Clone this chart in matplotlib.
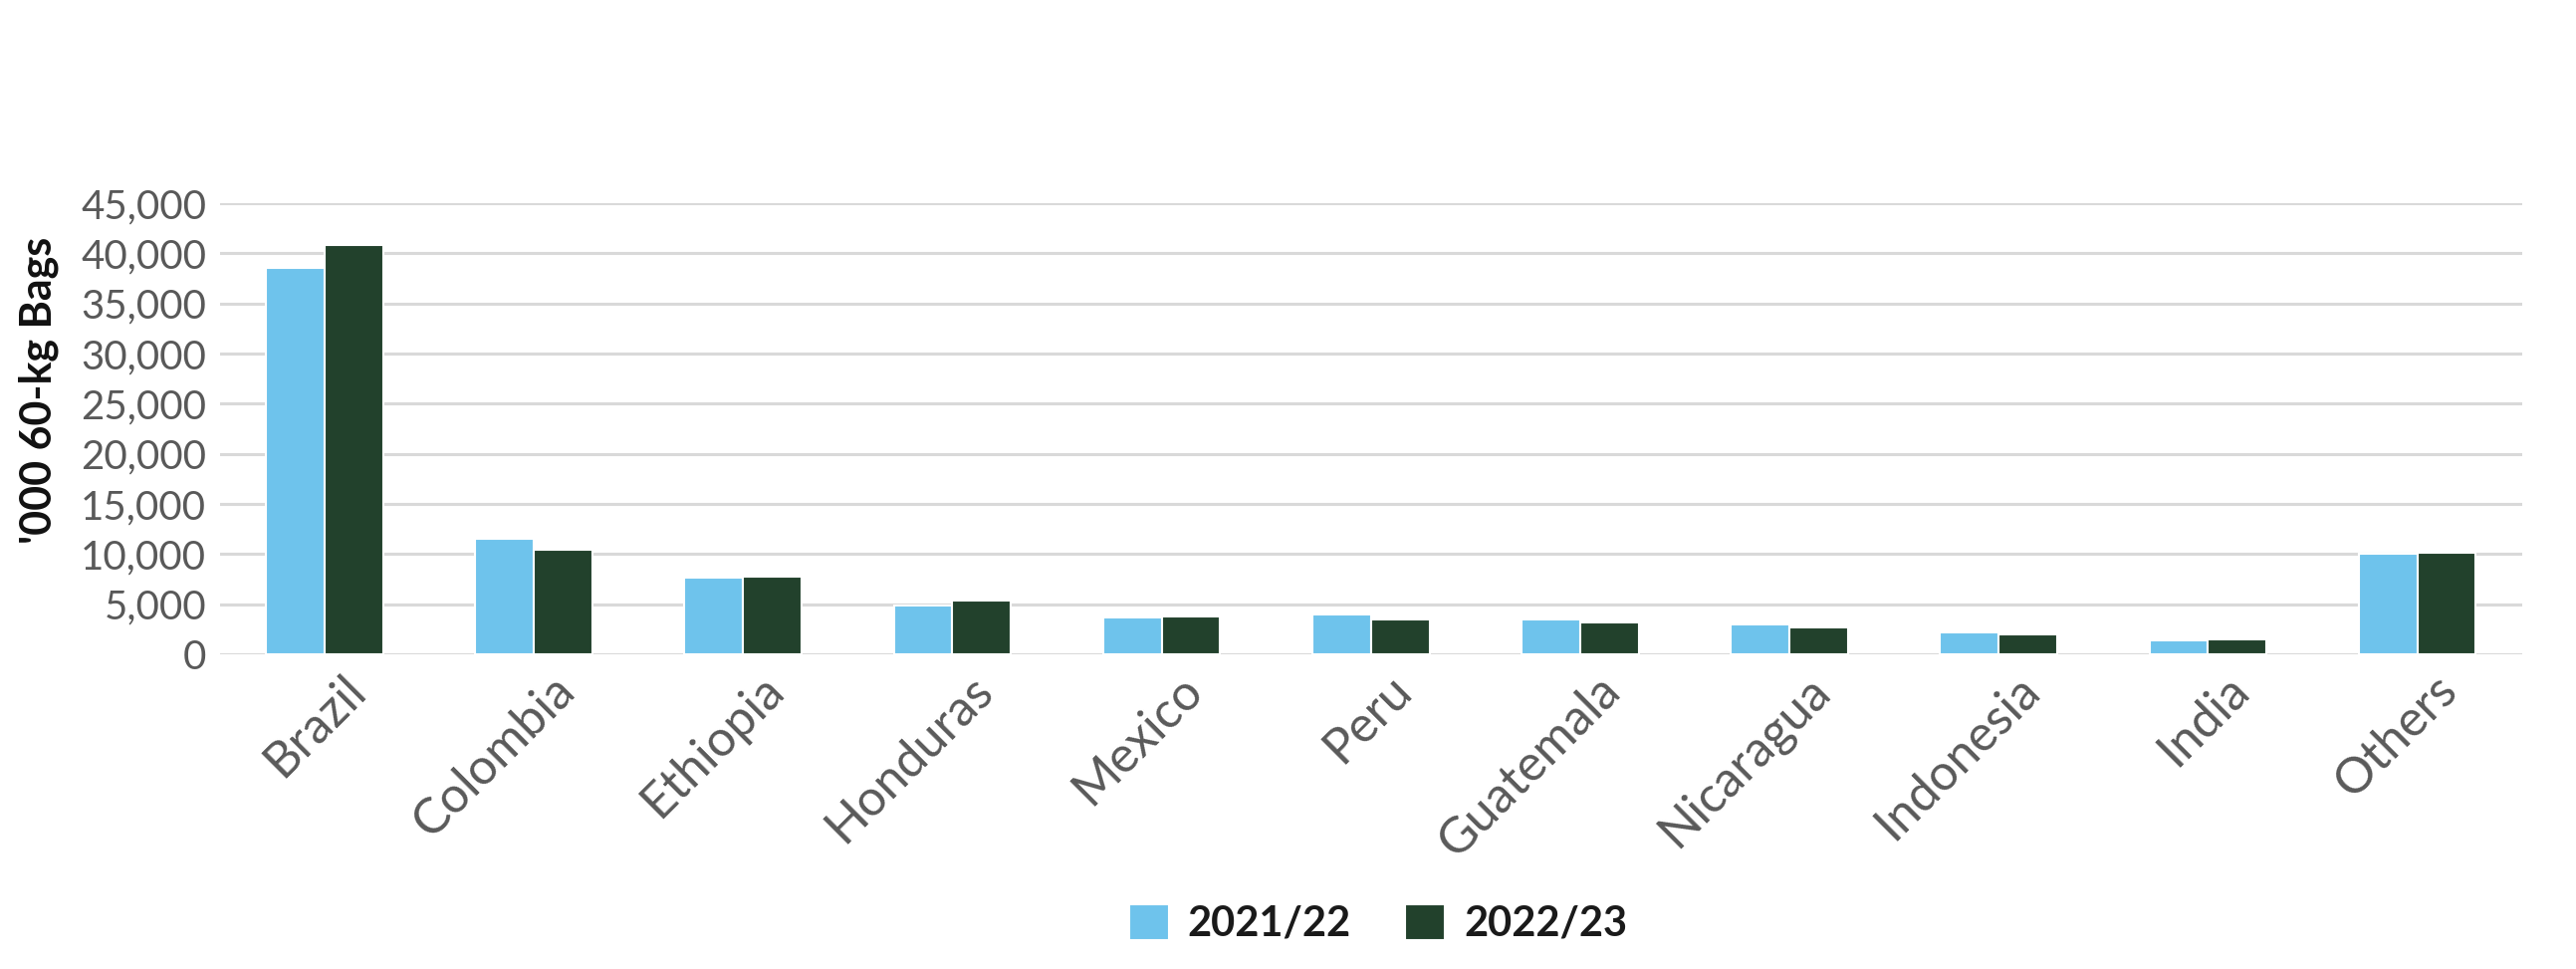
import numpy as np
import matplotlib
matplotlib.use("Agg")
import matplotlib.pyplot as plt
import matplotlib.transforms as mtransforms
from matplotlib.ticker import FuncFormatter

countries = ['Brazil', 'Colombia', 'Ethiopia', 'Honduras', 'Mexico', 'Peru',
             'Guatemala', 'Nicaragua', 'Indonesia', 'India', 'Others']
y2021 = [38500, 11500, 7600, 4850, 3700, 3950, 3500, 2950, 2150, 1350, 10000]
y2022 = [40800, 10450, 7750, 5330, 3800, 3500, 3200, 2650, 1950, 1530, 10100]
seasons = ['2021/22', '2022/23']
colors = ['#6ec3ec', '#22412c']

plt.rcParams['font.family'] = ['Lato', 'DejaVu Sans']

fig = plt.figure(figsize=(25.87, 9.73), dpi=100)
ax = fig.add_axes([0.0854, 0.3248, 0.8936, 0.4655])

x = np.arange(len(countries))
w = 0.28
ax.bar(x - w/2, y2021, w, color=colors[0], edgecolor='white', linewidth=1.5,
       label=seasons[0], zorder=3)
ax.bar(x + w/2, y2022, w, color=colors[1], edgecolor='white', linewidth=1.5,
       label=seasons[1], zorder=3)

ax.set_xlim(-0.5, len(countries) - 0.5)
ax.set_ylim(0, 45000)
ax.set_yticks(np.arange(0, 45001, 5000))
ax.yaxis.set_major_formatter(FuncFormatter(lambda v, p: f'{int(v):,}'))
ax.grid(axis='y', color='#d9d9d9', linewidth=2.2, zorder=0)
for s in ax.spines.values():
    s.set_visible(False)
ax.tick_params(axis='both', length=0, labelsize=29, labelcolor='#595959')
ax.tick_params(axis='y', pad=10)
ax.set_xticks(x)
ax.set_xticklabels(countries, rotation=45, ha='right', rotation_mode='anchor',
                   fontsize=36)
ax.tick_params(axis='x', pad=9)
# nudge the rotated labels a little to the right
shift = mtransforms.ScaledTranslation(0.17, 0, fig.dpi_scale_trans)
for lbl in ax.get_xticklabels():
    lbl.set_transform(lbl.get_transform() + shift)

ax.set_ylabel("'000 60-kg Bags", fontsize=31, fontweight='bold', color='#111111')
ax.yaxis.set_label_coords(-0.070, 0.585)

leg = fig.legend(loc='center', bbox_to_anchor=(0.535, 0.047), ncol=2, frameon=False,
                 fontsize=30, handlelength=0.96, handleheight=0.96,
                 handletextpad=0.46, columnspacing=1.3)
for t in leg.get_texts():
    t.set_color('#1a1a1a')
    t.set_fontweight('bold')

fig.savefig('out.png', dpi=100)
